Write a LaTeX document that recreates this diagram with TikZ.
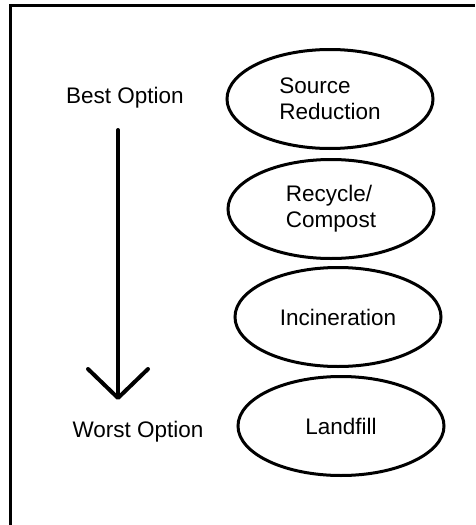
\documentclass[tikz,border=0pt]{standalone}
\usepackage{fontspec}
\setmainfont{Liberation Sans}
\usetikzlibrary{shapes.geometric,arrows.meta}
\begin{document}
\begin{tikzpicture}[x=1pt,y=-1pt,
  every node/.style={font=\fontsize{22.5}{26}\selectfont},
  option/.style={ellipse,draw,line width=3pt,minimum width=206pt,minimum height=99pt,inner sep=0pt,align=left},
  label/.style={anchor=base,inner sep=0pt},
  frameline/.style={line width=3pt},
  bigarrow/.style={line width=4pt,line cap=round,-{Straight Barb[length=29pt,width=60pt,line width=4pt,round]}}]
\useasboundingbox (0,0) rectangle (475,525);
\draw[frameline] (475,5.5) -- (10.5,5.5) -- (10.5,525);
\node[option] (src) at (330,99) {Source\\Reduction};
\node[option] (rec) at (331,209) {Recycle/\\Compost};
\node[option] (inc) at (338,317) {Incineration};
\node[option] (lnd) at (341,426) {Landfill};
\node[label] (best) at (125,103) {Best Option};
\node[label] (worst) at (138,437) {Worst Option};
\coordinate (atop) at (118,130);
\coordinate (atip) at (118,400);
\draw[bigarrow] (atop) -- (atip);
\end{tikzpicture}
\end{document}
